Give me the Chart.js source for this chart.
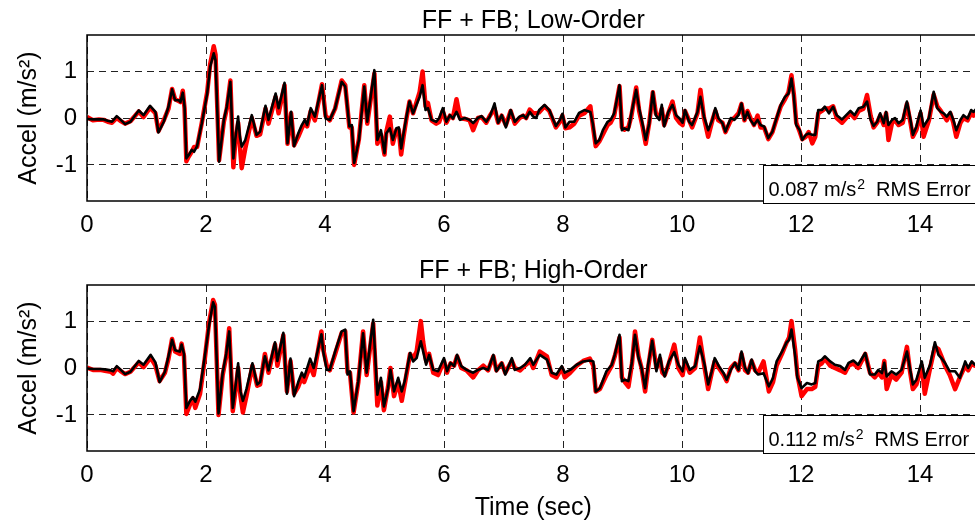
<!DOCTYPE html>
<html><head><meta charset="utf-8">
<script src="https://cdn.jsdelivr.net/npm/chart.js@4.4.0/dist/chart.umd.min.js"></script>
<style>
html,body{margin:0;padding:0;background:#fff;overflow:hidden;width:975px;height:523px;}
.panel{position:absolute;left:0;width:1000px;}
</style></head><body>
<div class="panel" style="top:0;height:250px"><canvas id="c1"></canvas></div>
<div class="panel" style="top:250px;height:273px"><canvas id="c2"></canvas></div>
<script>
const xTicks = [0, 2, 4, 6, 8, 10, 12, 14];
const yTicks = [-1, 0, 1];
const panelTitles = ["FF + FB; Low-Order", "FF + FB; High-Order"];
const rmsValues = ["0.087", "0.112"];

// Top panel (Low-Order)
const timeTop = [0.00,0.10,0.20,0.28,0.35,0.42,0.50,0.56,0.64,0.73,0.87,0.95,1.06,1.15,1.20,1.29,1.37,1.43,1.48,1.54,1.57,1.61,1.64,1.67,1.71,1.76,1.80,1.85,1.93,2.02,2.07,2.13,2.16,2.22,2.30,2.35,2.41,2.46,2.49,2.54,2.57,2.60,2.66,2.77,2.85,2.91,3.00,3.05,3.17,3.22,3.32,3.37,3.43,3.48,3.55,3.61,3.66,3.70,3.76,3.83,3.95,4.01,4.08,4.17,4.28,4.34,4.41,4.45,4.49,4.57,4.66,4.71,4.83,4.88,4.94,5.00,5.03,5.09,5.14,5.20,5.24,5.28,5.32,5.37,5.42,5.48,5.59,5.64,5.69,5.73,5.79,5.87,5.92,5.98,6.04,6.10,6.15,6.21,6.27,6.35,6.43,6.49,6.57,6.63,6.71,6.77,6.85,6.91,6.97,7.04,7.12,7.19,7.27,7.33,7.38,7.44,7.50,7.55,7.60,7.69,7.77,7.88,7.95,7.99,8.04,8.11,8.19,8.27,8.36,8.46,8.50,8.55,8.61,8.67,8.75,8.80,8.86,8.91,8.95,8.99,9.03,9.10,9.15,9.23,9.28,9.34,9.39,9.45,9.51,9.56,9.62,9.66,9.70,9.77,9.84,9.90,9.96,10.01,10.05,10.12,10.17,10.26,10.31,10.37,10.44,10.51,10.56,10.61,10.68,10.73,10.82,10.88,10.95,11.00,11.05,11.10,11.15,11.21,11.27,11.32,11.38,11.45,11.52,11.57,11.66,11.73,11.79,11.84,11.88,11.92,11.98,12.02,12.08,12.13,12.19,12.24,12.29,12.35,12.40,12.47,12.54,12.60,12.69,12.76,12.83,12.90,12.97,13.05,13.11,13.17,13.22,13.28,13.33,13.39,13.43,13.47,13.53,13.58,13.64,13.71,13.78,13.84,13.88,13.94,14.01,14.06,14.15,14.23,14.29,14.35,14.40,14.45,14.51,14.56,14.61,14.68,14.73,14.80,14.86,14.90,14.95,15.00];
const blackTop = [-0.02,-0.03,-0.03,-0.03,-0.06,-0.08,0.04,-0.03,-0.13,-0.08,0.16,0.06,0.26,0.13,-0.31,-0.08,0.24,0.61,0.38,0.38,0.34,0.54,0.24,-0.86,-0.79,-0.68,-0.72,-0.60,-0.11,0.52,1.09,1.38,1.23,-0.93,-0.04,0.24,0.77,-0.86,-0.47,0.03,-0.40,-0.61,-0.47,0.06,-0.36,-0.29,0.26,-0.04,0.52,0.21,0.75,-0.54,0.13,-0.60,-0.33,-0.15,-0.04,-0.15,0.21,0.03,0.70,-0.01,-0.04,0.21,0.77,0.67,-0.18,-0.15,-0.96,-0.47,0.67,-0.08,1.02,-0.47,-0.26,-0.75,-0.33,-0.22,-0.47,-0.22,-0.20,-0.65,-0.33,0.03,0.35,0.10,0.45,0.70,0.17,0.21,-0.04,-0.08,0.00,0.21,-0.08,0.06,-0.01,0.13,-0.04,0.00,-0.04,-0.11,0.00,0.04,-0.08,0.03,0.31,-0.10,0.06,-0.20,0.17,-0.08,0.03,0.06,-0.01,0.13,0.03,0.00,0.17,0.28,0.17,-0.17,-0.04,0.09,-0.20,-0.08,-0.08,0.11,0.17,0.13,-0.11,-0.54,-0.47,-0.26,-0.08,-0.04,0.10,0.42,0.70,-0.26,-0.22,-0.26,0.10,0.60,0.21,-0.15,-0.47,-0.11,0.56,0.06,-0.04,0.28,-0.18,0.13,0.28,0.06,-0.01,-0.10,0.17,-0.08,-0.15,0.13,0.45,0.03,-0.26,-0.04,0.21,0.00,-0.11,-0.29,0.00,-0.04,0.06,0.31,-0.04,0.13,-0.04,-0.15,-0.04,-0.15,-0.18,-0.43,-0.29,-0.08,0.28,0.45,0.52,0.84,0.45,-0.15,-0.26,-0.47,-0.36,-0.33,-0.36,-0.36,0.17,0.17,0.24,0.10,0.24,0.06,-0.03,0.06,0.15,0.06,0.21,0.24,0.35,-0.04,-0.17,-0.08,0.10,-0.11,0.13,-0.15,-0.04,0.00,-0.11,-0.04,0.35,-0.04,-0.36,-0.18,0.16,-0.18,0.00,0.56,0.21,0.13,0.10,0.03,0.13,-0.04,-0.26,-0.04,0.06,-0.01,0.17,0.13,0.20,0.15];
const redTop = [0.02,-0.05,-0.03,-0.04,-0.08,-0.10,0.00,-0.06,-0.12,-0.07,0.14,0.02,0.22,0.10,-0.28,-0.05,0.20,0.62,0.40,0.36,0.34,0.58,0.20,-0.92,-0.82,-0.72,-0.62,-0.62,-0.10,0.55,1.15,1.53,1.35,-0.90,-0.08,0.20,0.80,-1.05,-0.55,-0.10,-0.60,-1.07,-0.65,0.00,-0.38,-0.35,0.20,-0.12,0.45,0.10,0.70,-0.55,0.10,-0.58,-0.40,-0.22,-0.10,-0.18,0.15,-0.05,0.72,0.05,-0.05,0.20,0.80,0.70,-0.20,-0.20,-1.00,-0.45,0.70,-0.12,0.95,-0.55,-0.35,-0.78,-0.30,0.03,-0.55,-0.25,-0.25,-0.78,-0.40,0.00,0.35,0.10,0.55,0.99,0.25,0.32,-0.05,-0.12,-0.08,0.15,-0.10,0.05,0.00,0.40,0.00,-0.02,-0.05,-0.26,0.00,0.02,-0.10,0.05,0.20,-0.10,0.05,-0.15,0.15,-0.12,0.00,0.05,0.00,0.18,0.10,0.10,0.12,0.25,0.15,-0.20,-0.08,0.05,-0.22,-0.20,-0.12,0.05,0.10,0.25,-0.15,-0.60,-0.50,-0.35,-0.15,-0.10,0.05,0.40,0.68,-0.20,-0.25,-0.20,0.05,0.65,0.15,-0.20,-0.55,-0.10,0.55,0.10,0.00,0.20,-0.15,0.10,0.35,0.00,-0.10,-0.15,0.15,-0.05,-0.20,0.10,0.60,0.00,-0.40,-0.05,0.15,-0.05,-0.10,-0.30,-0.05,0.00,0.10,0.30,-0.05,0.15,0.00,-0.15,0.05,-0.20,-0.20,-0.45,-0.30,-0.10,0.25,0.40,0.55,0.91,0.50,-0.10,-0.30,-0.45,-0.40,-0.30,-0.54,-0.40,0.10,0.15,0.20,0.20,0.25,0.00,-0.10,0.00,0.10,0.00,0.15,0.20,0.49,0.05,-0.20,-0.10,0.05,-0.15,0.10,-0.47,-0.10,-0.05,-0.15,-0.10,0.30,-0.10,-0.40,-0.25,0.10,-0.40,-0.05,0.50,0.25,0.15,0.05,-0.05,0.10,-0.10,-0.40,-0.10,0.00,-0.05,0.10,0.05,0.15,0.10];

// Bottom panel (High-Order)
const timeBot = [0.00,0.10,0.22,0.30,0.40,0.44,0.50,0.56,0.64,0.73,0.87,0.95,1.07,1.15,1.22,1.31,1.37,1.43,1.48,1.56,1.59,1.63,1.67,1.73,1.78,1.82,1.90,1.98,2.05,2.12,2.15,2.21,2.28,2.34,2.39,2.45,2.50,2.54,2.58,2.62,2.68,2.78,2.86,2.91,2.99,3.05,3.16,3.20,3.30,3.36,3.42,3.48,3.55,3.61,3.65,3.75,3.81,3.94,3.97,4.03,4.08,4.17,4.28,4.34,4.38,4.42,4.48,4.56,4.64,4.70,4.81,4.88,4.94,4.99,5.06,5.10,5.16,5.23,5.29,5.34,5.43,5.48,5.54,5.61,5.65,5.70,5.75,5.82,5.90,6.00,6.05,6.11,6.17,6.22,6.29,6.38,6.49,6.57,6.66,6.74,6.83,6.88,6.97,7.03,7.14,7.19,7.28,7.36,7.45,7.50,7.61,7.73,7.81,7.89,7.98,8.03,8.12,8.23,8.34,8.45,8.51,8.55,8.62,8.73,8.82,8.87,8.95,8.99,9.04,9.10,9.16,9.21,9.27,9.32,9.38,9.43,9.50,9.57,9.63,9.67,9.71,9.78,9.87,9.94,10.01,10.05,10.13,10.22,10.30,10.38,10.44,10.50,10.55,10.62,10.70,10.75,10.82,10.89,10.95,11.00,11.06,11.11,11.17,11.23,11.28,11.37,11.46,11.53,11.59,11.68,11.76,11.80,11.84,11.90,11.94,12.01,12.10,12.18,12.24,12.29,12.35,12.40,12.49,12.57,12.66,12.74,12.80,12.88,12.96,13.08,13.16,13.24,13.30,13.36,13.40,13.44,13.52,13.60,13.69,13.78,13.83,13.88,13.94,14.03,14.08,14.17,14.25,14.31,14.36,14.42,14.50,14.59,14.67,14.76,14.81,14.87,14.92,15.00];
const blackBot = [-0.01,-0.02,-0.02,-0.03,-0.05,-0.07,0.04,-0.03,-0.13,-0.08,0.15,0.07,0.28,0.12,-0.30,-0.08,0.25,0.60,0.38,0.35,0.50,0.30,-0.85,-0.70,-0.62,-0.72,-0.45,0.25,0.90,1.40,1.30,-0.97,-0.10,0.30,0.78,-0.85,-0.35,0.10,-0.50,-0.70,-0.45,0.10,-0.35,-0.30,0.25,-0.05,0.55,0.15,0.75,-0.55,0.20,-0.60,-0.30,-0.10,-0.20,0.20,0.00,0.72,0.35,-0.04,-0.04,0.35,0.78,0.82,-0.14,-0.07,-0.92,-0.28,0.74,-0.10,1.03,-0.57,-0.21,-0.82,-0.43,-0.04,-0.50,-0.21,-0.50,-0.28,0.32,0.14,0.21,0.57,0.35,0.07,0.28,-0.04,-0.07,0.21,-0.07,0.11,0.04,0.28,0.04,-0.04,-0.10,-0.04,0.00,-0.04,0.28,-0.07,0.11,-0.14,0.21,-0.04,0.00,0.07,0.21,0.07,0.28,0.18,-0.10,-0.14,0.04,-0.10,-0.04,0.07,0.14,0.16,0.14,-0.50,-0.43,-0.07,0.07,0.28,0.71,-0.28,-0.25,-0.28,0.14,0.71,0.21,0.00,-0.43,0.07,0.58,-0.07,0.28,-0.04,-0.18,0.14,0.34,0.07,-0.07,0.21,-0.04,0.04,0.46,0.07,-0.35,-0.07,0.21,0.04,-0.11,-0.25,-0.04,0.11,-0.04,0.35,0.00,-0.11,0.18,-0.07,-0.14,-0.11,-0.39,-0.21,0.14,0.35,0.55,0.60,0.82,0.28,-0.21,-0.43,-0.32,-0.35,-0.32,0.14,0.18,0.25,0.14,0.07,0.04,-0.04,0.11,0.16,0.07,0.32,-0.14,-0.14,-0.04,-0.11,0.11,-0.18,-0.07,-0.14,-0.04,0.35,0.00,-0.35,-0.25,0.14,-0.21,0.07,0.55,0.28,0.21,0.11,-0.07,-0.07,-0.21,0.14,0.00,0.14,0.07,0.10];
const redBot = [0.01,-0.04,-0.04,-0.06,-0.08,-0.12,0.00,-0.06,-0.13,-0.08,0.12,0.02,0.22,0.05,-0.28,-0.10,0.20,0.62,0.35,0.30,0.52,0.25,-0.98,-0.78,-0.65,-0.85,-0.55,0.20,0.95,1.45,1.35,-1.00,-0.15,0.25,0.85,-0.92,-0.45,0.00,-0.60,-0.95,-0.60,0.05,-0.38,-0.35,0.30,-0.10,0.50,0.05,0.70,-0.50,0.15,-0.55,-0.40,-0.20,-0.30,0.05,-0.15,0.78,0.40,0.05,-0.05,0.30,0.75,0.78,-0.10,-0.10,-0.95,-0.30,0.78,-0.15,0.95,-0.80,-0.30,-0.90,-0.40,0.00,-0.60,-0.30,-0.70,-0.35,0.30,0.20,0.35,1.00,0.55,0.15,0.30,-0.10,-0.15,0.15,-0.10,0.10,0.05,0.25,0.00,-0.05,-0.20,-0.05,0.05,-0.05,0.25,-0.05,0.10,-0.10,0.15,0.00,-0.05,0.05,0.15,0.00,0.35,0.25,-0.15,-0.20,0.00,-0.20,-0.10,0.05,0.15,0.20,0.05,-0.50,-0.45,-0.15,0.05,0.25,0.65,-0.20,-0.30,-0.40,0.10,0.78,0.25,0.00,-0.50,0.00,0.60,0.00,0.20,-0.10,-0.15,0.10,0.50,0.00,-0.15,0.15,-0.10,0.00,0.65,0.00,-0.45,-0.10,0.15,0.00,-0.15,-0.28,0.00,0.10,-0.05,0.30,-0.05,-0.10,0.15,-0.05,-0.10,0.14,-0.50,-0.30,0.05,0.30,0.55,0.65,1.00,0.40,-0.15,-0.60,-0.45,-0.45,-0.40,0.05,0.10,0.20,0.05,0.00,-0.05,-0.10,0.05,0.10,0.00,0.30,-0.10,-0.20,-0.10,-0.20,0.15,-0.45,-0.15,-0.25,-0.10,0.45,-0.05,-0.45,-0.35,0.05,-0.55,0.00,0.45,0.40,0.25,0.05,-0.15,-0.45,-0.20,0.05,-0.05,0.10,0.05,0.05];

const FONT = '"Liberation Sans", Arial, Helvetica, sans-serif';
Chart.defaults.font.family = FONT;
Chart.defaults.color = '#000';

const rmsBox = { tStart: 11.36, vTop: -1.01, width: 260, height: 38 };

const framePlugin = {
  id: 'frame',
  afterDatasetsDraw(chart, args, opts) {
    const { ctx, chartArea: a, scales: { x, y } } = chart;
    ctx.save();
    ctx.strokeStyle = '#000';
    ctx.lineWidth = 1.5;
    ctx.strokeRect(a.left, a.top, a.right - a.left, a.bottom - a.top);
    const bx = Math.round(x.getPixelForValue(rmsBox.tStart)) + 0.5;
    const by = Math.round(y.getPixelForValue(rmsBox.vTop)) + 0.5;
    ctx.fillStyle = '#fff';
    ctx.fillRect(bx, by, rmsBox.width, rmsBox.height);
    ctx.lineWidth = 1;
    ctx.strokeRect(bx, by, rmsBox.width, rmsBox.height);
    ctx.fillStyle = '#000';
    ctx.textBaseline = 'alphabetic';
    ctx.textAlign = 'left';
    const base = by + 30;
    let tx = bx + 5;
    ctx.font = '20px ' + FONT;
    const p1 = opts.rms + ' m/s';
    ctx.fillText(p1, tx, base);
    tx += ctx.measureText(p1).width + 1;
    ctx.font = '14px ' + FONT;
    ctx.fillText('2', tx, base - 7);
    tx += ctx.measureText('2').width + 11;
    ctx.font = '20px ' + FONT;
    ctx.fillText('RMS Error', tx, base);
    ctx.restore();
  }
};

function makeChart(id, time, red, black, title, rms, xTitle, xHeight) {
  const pts = (t, v) => t.map((tt, i) => ({ x: tt, y: v[i] }));
  return new Chart(document.getElementById(id), {
    type: 'line',
    data: {
      datasets: [
        { label: 'model', data: pts(time, black), borderColor: '#000', borderWidth: 2.6, pointRadius: 0, tension: 0, order: 0, borderJoinStyle: 'round' },
        { label: 'measured', data: pts(time, red), borderColor: '#ff0000', borderWidth: 4.5, pointRadius: 0, tension: 0, order: 1, borderJoinStyle: 'round' }
      ]
    },
    options: {
      responsive: true, maintainAspectRatio: false, animation: false, devicePixelRatio: 1,
      layout: { padding: { left: 0, right: 20.5, top: 0, bottom: 0 } },
      plugins: {
        legend: { display: false }, tooltip: { enabled: false },
        title: { display: true, text: title, fullSize: false, color: '#000',
                 font: { size: 25, weight: 'normal', lineHeight: 1 }, padding: { top: 8.8, bottom: 1.2 } },
        frame: { rms: rms }
      },
      scales: {
        x: {
          type: 'linear', min: 0, max: 15,
          afterBuildTicks: s => { s.ticks = xTicks.map(v => ({ value: v })); },
          afterFit: s => { s.height = xHeight; },
          grid: { color: '#222', lineWidth: 1, drawTicks: false },
          border: { display: false, dash: [7, 5] },
          ticks: { padding: 10, font: { size: 24 }, color: '#000', maxRotation: 0, autoSkip: false,
                   callback: v => String(v) },
          title: { display: !!xTitle, text: xTitle || '', color: '#000', font: { size: 25, lineHeight: 1.2 }, padding: { top: 0, bottom: 0 } }
        },
        y: {
          type: 'linear', min: -1.77, max: 1.77,
          afterBuildTicks: s => { s.ticks = yTicks.map(v => ({ value: v })); },
          afterFit: s => { s.width = 87; },
          grid: { color: '#222', lineWidth: 1, drawTicks: false },
          border: { display: false, dash: [7, 5] },
          ticks: { padding: 10, font: { size: 24 }, color: '#000', callback: v => String(v) },
          title: { display: true, text: 'Accel (m/s²)', color: '#000', font: { size: 25, lineHeight: 1.2 }, padding: { top: 14.6, bottom: 0 } }
        }
      }
    },
    plugins: [framePlugin]
  });
}

makeChart('c1', timeTop, redTop, blackTop, panelTitles[0], rmsValues[0], null, 49);
makeChart('c2', timeBot, redBot, blackBot, panelTitles[1], rmsValues[1], 'Time (sec)', 72);
</script>
</body></html>
